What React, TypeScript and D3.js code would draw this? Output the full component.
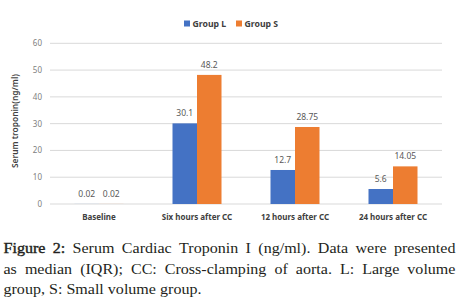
import React from "react";
import * as d3 from "d3";

const categories = ["Baseline", "Six hours after CC", "12 hours after CC", "24 hours after CC"];
const groups = ["Group L", "Group S"];
const groupL = [0.02, 30.1, 12.7, 5.6];
const groupS = [0.02, 48.2, 28.75, 14.05];
const labelsL = ["0.02", "30.1", "12.7", "5.6"];
const labelsS = ["0.02", "48.2", "28.75", "14.05"];
const yTicks = [0, 10, 20, 30, 40, 50, 60];
const colors = ["#4472C4", "#ED7D31"];
const yTitle = "Serum troponin(ng/ml)";
const captionLines = [
  { text: "Figure 2: Serum Cardiac Troponin I (ng/ml). Data were presented", justify: true, boldWords: 2 },
  { text: "as median (IQR); CC: Cross-clamping of aorta. L: Large volume", justify: true, boldWords: 0 },
  { text: "group, S: Small volume group.", justify: false, boldWords: 0 },
];

const W = 458;
const H = 306;
const chartFont = "'Noto Sans', sans-serif";
const capFamily = "'Liberation Serif', serif";
const capSize = 14.6;
const capStretch = 1.1;

let ctx: CanvasRenderingContext2D | null = null;
function measure(text: string, font: string) {
  if (!ctx) ctx = document.createElement("canvas").getContext("2d");
  ctx!.font = font;
  return ctx!.measureText(text).width;
}

export default function App() {
  const x0 = d3.scaleBand<string>().domain(categories).range([50, 442]).padding(0);
  const bw = x0.bandwidth();
  const x1 = d3.scaleBand<string>().domain(groups).range([bw * 0.25, bw * 0.75]).padding(0);
  const y = d3.scaleLinear().domain([0, 60]).range([204, 43.3]);
  const series = [groupL, groupS];
  const labels = [labelsL, labelsS];

  const capLeft = 3.5;
  const capRight = 455.5;
  const capBaselines = [252.5, 273.5, 294];
  const capFont = `${capSize}px ${capFamily}`;

  return (
    <svg width={W} height={H} style={{ position: "absolute", left: 0, top: 0, background: "#fff" }}>
      {yTicks.map((t) => (
        <g key={t}>
          <line x1={50} x2={442} y1={y(t)} y2={y(t)} stroke="#d9d9d9" strokeWidth={1} />
          <text x={42} y={y(t) + 3} textAnchor="end" fontFamily={chartFont} fontSize={8} fill="#808080">
            {t}
          </text>
        </g>
      ))}
      {categories.map((c, i) => (
        <g key={c} transform={`translate(${x0(c)},0)`}>
          {groups.map((g, j) => (
            <g key={g}>
              <rect
                x={x1(g)}
                width={x1.bandwidth()}
                y={y(series[j][i])}
                height={y(0) - y(series[j][i])}
                fill={colors[j]}
              />
              <text
                x={(x1(g) as number) + x1.bandwidth() / 2}
                y={y(series[j][i]) - 7}
                textAnchor="middle"
                fontFamily={chartFont}
                fontSize={8.5}
                fill="#595959"
              >
                {labels[j][i]}
              </text>
            </g>
          ))}
          <text
            x={bw / 2}
            y={220}
            textAnchor="middle"
            fontFamily={chartFont}
            fontSize={8}
            fontWeight="bold"
            fill="#404040"
          >
            {c}
          </text>
        </g>
      ))}
      <text
        transform={`translate(17.5,121) rotate(-90)`}
        textAnchor="middle"
        fontFamily={chartFont}
        fontSize={8.4}
        fontWeight={600}
        fill="#404040"
      >
        {yTitle}
      </text>
      {groups.map((g, j) => {
        const lx = [184, 236][j];
        return (
          <g key={g}>
            <rect x={lx} y={20.5} width={6} height={6} fill={colors[j]} />
            <text x={lx + 8.5} y={26.5} fontFamily={chartFont} fontSize={8.7} fontWeight="bold" fill="#404040">
              {g}
            </text>
          </g>
        );
      })}
      {captionLines.map((line, li) => {
        const words = line.text.split(" ");
        const widths = words.map((w) => measure(w, capFont) * capStretch);
        const total = d3.sum(widths);
        const gap = line.justify
          ? (capRight - capLeft - total) / (words.length - 1)
          : measure(" ", capFont) * capStretch;
        let cx = capLeft;
        return (
          <g key={li}>
            {words.map((w, k) => {
              const bold = k < line.boldWords;
              const el = (
                <text
                  key={k}
                  transform={`translate(${cx},${capBaselines[li]}) scale(${capStretch},1)`}
                  fontFamily={capFamily}
                  fontSize={capSize}
                  fill="#231f20"
                  stroke={bold ? "#231f20" : "none"}
                  strokeWidth={bold ? 0.4 : 0}
                >
                  {w}
                </text>
              );
              cx += widths[k] + gap;
              return el;
            })}
          </g>
        );
      })}
    </svg>
  );
}
